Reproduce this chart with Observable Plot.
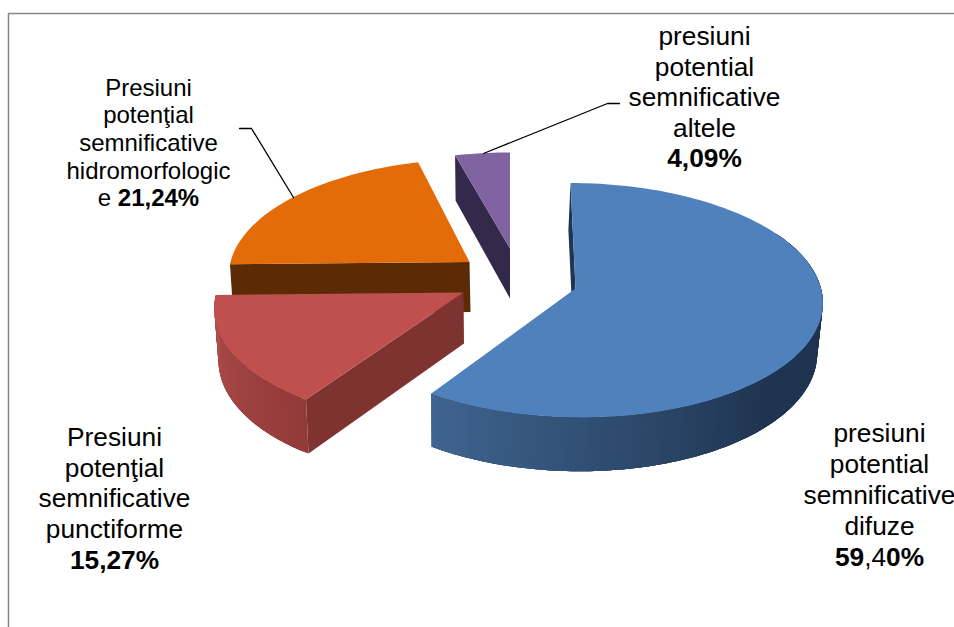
<!DOCTYPE html>
<html><head><meta charset="utf-8">
<style>html,body{margin:0;padding:0;background:#fff}svg{display:block}</style>
<script src="https://cdn.jsdelivr.net/npm/d3@7"></script>
<script src="https://cdn.jsdelivr.net/npm/@observablehq/plot@0.6"></script>
</head><body><div id="chart"></div>
<script>
// Data: clockwise from the top of the pie
const names = ["difuze", "punctiforme", "hidromorfologice", "altele"];
const shares = [59.40, 15.27, 21.24, 4.09];

// Labels
const labelDifuze = ["presiuni", "potential", "semnificative", "difuze", "59,40%"];
const labelPunctiforme = ["Presiuni", "potenţial", "semnificative", "punctiforme", "15,27%"];
const labelHidro = ["Presiuni", "potenţial", "semnificative", "hidromorfologic", "e 21,24%"];
const labelAltele = ["presiuni", "potential", "semnificative", "altele", "4,09%"];

// Appearance of each slice in the exploded, tilted projection
const topColors = ["#4F81BD", "#C0504D", "#E36C09", "#8064A2"];
const sideColors = ["#1F3552", "#7F3331", "#5A2B04", "#33294A"];
const centerX = [575, 463, 469, 509.5];
const centerY = [288, 292, 261.5, 248];
const radiusX = [245.5, 247, 239, 237];
const radiusY = [116, 118, 113, 105.6];
const skew = [0.047, -0.07, -0.04, 0];
const depth = [50, 51, 50, 50];
const shiftX = [-2, 0.5, 1, 0];
const depthGrowY = [1.03, 1.03, 1.03, 1.05];
const depthShrinkX = [0.985, 0.985, 0.99, 0.99];
const tilt = 0.1;

function project(i, deg, bottom) {
  const t = deg * Math.PI / 180, u = Math.sin(t), v = -Math.cos(t);
  const p = 1 / (1 - tilt * v);
  const rx = radiusX[i] * (bottom ? depthShrinkX[i] : 1);
  const ry = radiusY[i] * (bottom ? depthGrowY[i] : 1);
  const dy = ry * v * p;
  return {
    x: centerX[i] + (bottom ? shiftX[i] : 0) + rx * u * p + skew[i] * dy,
    y: centerY[i] + (bottom ? depth[i] : 0) + dy
  };
}
const apex = (i, bottom) => ({
  x: centerX[i] + (bottom ? shiftX[i] : 0),
  y: centerY[i] + (bottom ? depth[i] : 0)
});
const steps = (a, b, n) => d3.range(n + 1).map(k => a + (b - a) * k / n);

// Angular extents from the values
let cum = 0;
const extents = shares.map(s => { const a = cum; cum += s; return [a * 3.6, cum * 3.6]; });

const wallRamp = {
  0: a => d3.interpolateRgb("#1F3450", "#3F6590")(Math.min(1, Math.max(0, (a - 135) / (extents[0][1] - 135)))),
  1: a => d3.interpolateRgb("#B04F4C", "#923A39")(Math.min(1, Math.max(0, (268 - a) / (268 - extents[1][0]))))
};

const polys = [];
let pid = 0;
function addPoly(points, color) {
  const id = pid++;
  for (const p of points) polys.push({...p, id, color});
}
const wallPolys = [];
for (const i of [3, 2, 1, 0]) {
  const [a0, a1] = extents[i];
  // radial wall on the start edge
  addPoly([apex(i, false), project(i, a0, false), project(i, a0, true), apex(i, true)], sideColors[i]);
  // outer curved wall, front-facing part only: overlapping bands, so no seams show
  const w0 = Math.max(a0, 60), w1 = Math.min(a1, 270);
  if (w1 > w0 && wallRamp[i]) {
    const n = Math.ceil((w1 - w0) / 1);
    const as = steps(w0, w1, n);
    for (let k = 0; k < n; k++) {
      const end = as.slice(k, Math.min(n + 1, k + 5));
      addPoly([...end.map(a => project(i, a, false)),
               ...end.slice().reverse().map(a => project(i, a, true))],
              wallRamp[i]((as[k] + as[k + 1]) / 2));
    }
  }
  // top face
  addPoly([apex(i, false), ...steps(a0, a1, Math.ceil((a1 - a0) / 1.5)).map(a => project(i, a, false))], topColors[i]);
}

// Layout of labels
function lines(label, x, y0, step, size) {
  return label.map((text, k) => ({text, x, y: y0 + k * step, size}));
}
const labels = [
  ...lines(labelAltele, 704, 36, 30.6, 26.3),
  ...lines(labelHidro, 148, 87.5, 27.7, 24),
  ...lines(labelPunctiforme, 114, 437, 30.7, 26.3),
  ...lines(labelDifuze, 879, 433, 31, 26.3)
];
const boldRuns = {
  "59,40%": [["59", true], [",4", false], ["0%", true]],
  "e 21,24%": [["e ", false], ["21,24%", true]],
  "15,27%": [["15,27%", true]],
  "4,09%": [["4,09%", true]]
};

const leaderOrange = [{x: 239, y: 128}, {x: 251, y: 128}, {x: 293, y: 197}];
const leaderPurple = [{x: 483, y: 153}, {x: 607, y: 103}, {x: 619, y: 103}];
const frame = [{x: 954, y: 13}, {x: 8, y: 13}, {x: 8, y: 627}];

const plot = Plot.plot({
  width: 954, height: 627,
  marginTop: 0, marginRight: 0, marginBottom: 0, marginLeft: 0,
  x: {axis: null, domain: [0, 954], range: [0, 954]},
  y: {axis: null, domain: [0, 627], range: [0, 627]},
  color: {type: "identity"},
  style: {background: "#fff"},
  marks: [
    Plot.line(frame, {x: "x", y: "y", stroke: "#868686", strokeWidth: 1.5}),
    Plot.line(polys, {x: "x", y: "y", z: "id", fill: "color", stroke: "none"}),
    Plot.line(leaderOrange, {x: "x", y: "y", stroke: "#000", strokeWidth: 1.3}),
    Plot.line(leaderPurple, {x: "x", y: "y", stroke: "#000", strokeWidth: 1.3}),
    ...[24, 26.3].map(size => Plot.text(labels.filter(d => d.size === size), {
      x: "x", y: "y", text: "text", fontSize: size, fill: "#000",
      fontFamily: "'Liberation Sans', Arial, sans-serif", textAnchor: "middle"
    }))
  ]
});
d3.select(plot).selectAll("text").each(function () {
  const runs = boldRuns[this.textContent];
  if (!runs) return;
  const sel = d3.select(this);
  sel.text(null);
  for (const [t, bold] of runs) {
    sel.append("tspan").attr("font-weight", bold ? "bold" : "normal").attr("xml:space", "preserve").text(t);
  }
  sel.style("white-space", "pre");
});
document.getElementById("chart").appendChild(plot);
</script></body></html>
